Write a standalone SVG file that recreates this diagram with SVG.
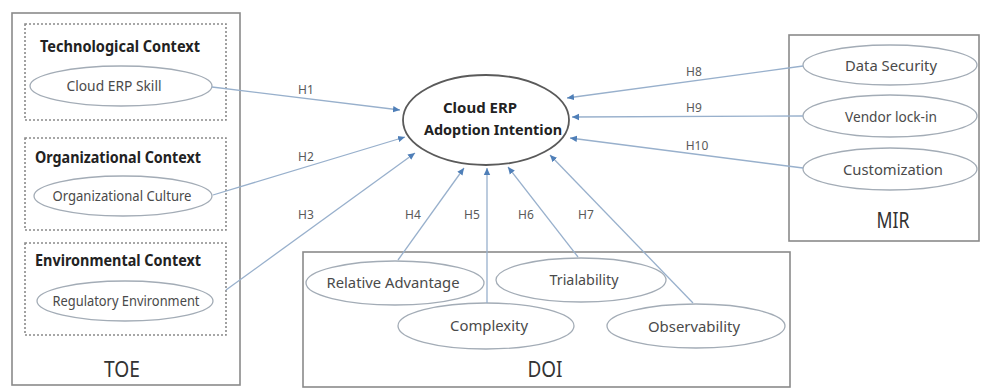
<svg xmlns="http://www.w3.org/2000/svg" width="981" height="389" viewBox="0 0 981 389">
<defs>
<style>
.box{fill:none;stroke:#8a8a8a;stroke-width:1.6}
.dash{fill:none;stroke:#8a8a8a;stroke-width:1.6;stroke-dasharray:2 2}
.el{fill:#fff;stroke:#a3acb6;stroke-width:1.3}
.cel{fill:#fff;stroke:#5a5a5a;stroke-width:1.8}
.t{font-family:"Noto Sans","Liberation Sans",sans-serif;fill:#4a4a4a;font-size:14px;text-anchor:middle}
.h{font-family:"Noto Sans","Liberation Sans",sans-serif;fill:#222;font-size:16px;font-weight:bold;text-anchor:middle}
.big{font-family:"Noto Sans","Liberation Sans",sans-serif;fill:#333;font-size:22px;text-anchor:middle}
.lab{font-family:"Noto Sans","Liberation Sans",sans-serif;fill:#5a5a5a;font-size:12px;text-anchor:middle}
.c{fill:none;stroke:#98b0cc;stroke-width:1.3;marker-end:url(#arr)}
</style>
<marker id="arr" markerWidth="8" markerHeight="8" refX="7" refY="4" orient="auto" markerUnits="userSpaceOnUse">
<path d="M0,0.8 L7,4 L0,7.2 Z" fill="#4f7fb8"/>
</marker>
</defs>
<rect width="981" height="389" fill="#fff"/>

<g id="toe">
<rect class="box" x="12" y="13" width="228" height="372"/>
<text class="big" x="122" y="377" textLength="36" lengthAdjust="spacingAndGlyphs">TOE</text>
</g>
<g id="tech-context">
<rect class="dash" x="25" y="24" width="201" height="96"/>
<text class="h" x="120" y="52" textLength="160" lengthAdjust="spacingAndGlyphs">Technological Context</text>
</g>
<g id="cloud-erp-skill">
<ellipse class="el" cx="121" cy="86" rx="91" ry="20"/>
<text class="t" x="114" y="91" textLength="95" lengthAdjust="spacingAndGlyphs">Cloud ERP Skill</text>
</g>
<g id="org-context">
<rect class="dash" x="25" y="138" width="201" height="92"/>
<text class="h" x="118" y="163" textLength="166" lengthAdjust="spacingAndGlyphs">Organizational Context</text>
</g>
<g id="org-culture">
<ellipse class="el" cx="123" cy="196" rx="89" ry="20"/>
<text class="t" x="122" y="201" textLength="139" lengthAdjust="spacingAndGlyphs">Organizational Culture</text>
</g>
<g id="env-context">
<rect class="dash" x="25" y="243" width="201" height="92"/>
<text class="h" x="118" y="266" textLength="166" lengthAdjust="spacingAndGlyphs">Environmental Context</text>
</g>
<g id="regulatory-env">
<ellipse class="el" cx="125" cy="301" rx="88" ry="20"/>
<text class="t" x="126" y="306" textLength="147" lengthAdjust="spacingAndGlyphs">Regulatory Environment</text>
</g>

<g id="doi">
<rect class="box" x="303" y="252" width="487" height="135"/>
<text class="big" x="545" y="377" textLength="35" lengthAdjust="spacingAndGlyphs">DOI</text>
</g>
<g id="relative-advantage">
<ellipse class="el" cx="395" cy="283" rx="89" ry="22"/>
<text class="t" x="393" y="288" textLength="133" lengthAdjust="spacingAndGlyphs">Relative Advantage</text>
</g>
<g id="complexity">
<ellipse class="el" cx="486" cy="326" rx="88" ry="23"/>
<text class="t" x="489" y="331" textLength="78" lengthAdjust="spacingAndGlyphs">Complexity</text>
</g>
<g id="trialability">
<ellipse class="el" cx="581" cy="280" rx="85" ry="22"/>
<text class="t" x="584" y="285" textLength="69" lengthAdjust="spacingAndGlyphs">Trialability</text>
</g>
<g id="observability">
<ellipse class="el" cx="696" cy="326" rx="89" ry="22"/>
<text class="t" x="694" y="332" textLength="92" lengthAdjust="spacingAndGlyphs">Observability</text>
</g>

<g id="mir">
<rect class="box" x="789" y="35" width="190" height="206"/>
<text class="big" x="893" y="228" textLength="33" lengthAdjust="spacingAndGlyphs">MIR</text>
</g>
<g id="data-security">
<ellipse class="el" cx="890" cy="65" rx="87" ry="20"/>
<text class="t" x="891" y="71" textLength="92" lengthAdjust="spacingAndGlyphs">Data Security</text>
</g>
<g id="vendor-lock-in">
<ellipse class="el" cx="890" cy="116" rx="87" ry="21"/>
<text class="t" x="891" y="122" textLength="92" lengthAdjust="spacingAndGlyphs">Vendor lock-in</text>
</g>
<g id="customization">
<ellipse class="el" cx="890" cy="169" rx="87" ry="21"/>
<text class="t" x="893" y="175" textLength="100" lengthAdjust="spacingAndGlyphs">Customization</text>
</g>

<g id="connectors">
<line class="c" x1="212" y1="87" x2="400" y2="110"/>
<line class="c" x1="213" y1="195" x2="405" y2="137"/>
<line class="c" x1="226" y1="290" x2="415" y2="153"/>
<line class="c" x1="398" y1="260" x2="464" y2="168"/>
<line class="c" x1="487" y1="303" x2="487" y2="168"/>
<line class="c" x1="578" y1="257" x2="508" y2="167"/>
<line class="c" x1="693" y1="303" x2="550" y2="155"/>
<line class="c" x1="803" y1="66" x2="567" y2="98"/>
<line class="c" x1="803" y1="116" x2="572" y2="117"/>
<line class="c" x1="803" y1="168" x2="570" y2="138"/>
<text class="lab" x="306" y="94">H1</text>
<text class="lab" x="306" y="161">H2</text>
<text class="lab" x="306" y="219">H3</text>
<text class="lab" x="413" y="219">H4</text>
<text class="lab" x="472" y="219">H5</text>
<text class="lab" x="526" y="219">H6</text>
<text class="lab" x="586" y="219">H7</text>
<text class="lab" x="694" y="76">H8</text>
<text class="lab" x="694" y="112">H9</text>
<text class="lab" x="697" y="150">H10</text>
</g>

<g id="adoption-intention">
<ellipse class="cel" cx="486" cy="120" rx="83" ry="45"/>
<text class="h" x="480" y="113" style="font-size:15px" textLength="74" lengthAdjust="spacingAndGlyphs">Cloud ERP</text>
<text class="h" x="493" y="135" style="font-size:15px" textLength="138" lengthAdjust="spacingAndGlyphs">Adoption Intention</text>
</g>
</svg>
